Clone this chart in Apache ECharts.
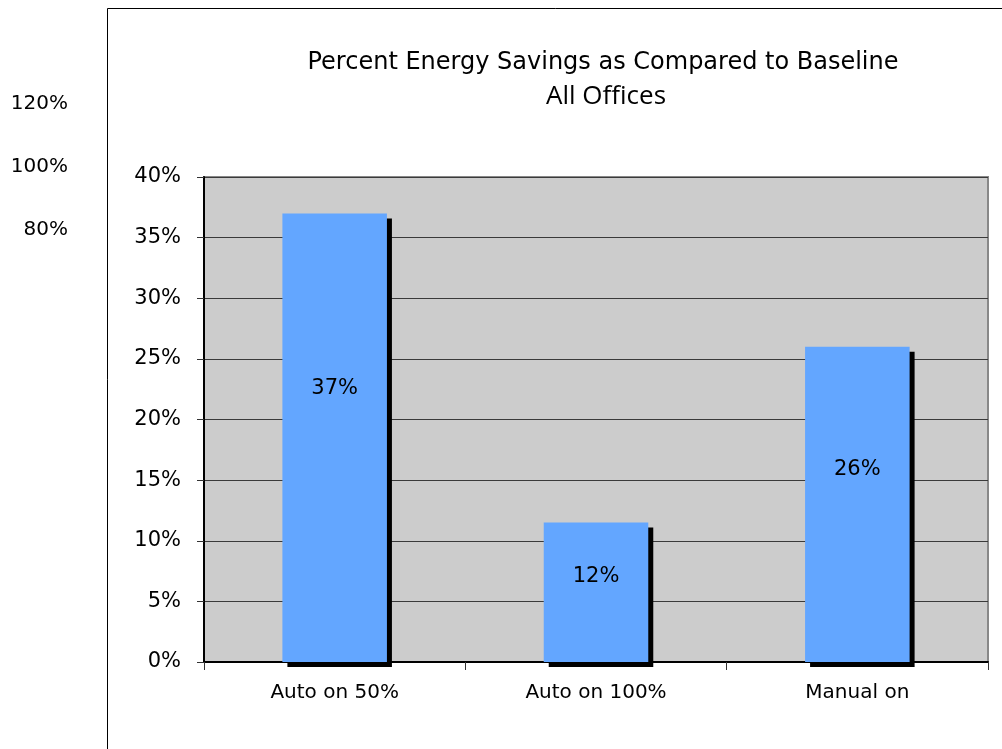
<!DOCTYPE html>
<html>
<head>
<meta charset="utf-8">
<script src="https://cdn.jsdelivr.net/npm/echarts@6/dist/echarts.min.js"></script>
<style>
  html, body { margin: 0; padding: 0; background: #ffffff; }
  #chart { width: 1002px; height: 749px; }
</style>
</head>
<body>
<div id="chart"></div>
<script>
// Savings by control strategy (percent)
const categories = ['Auto on 50%', 'Auto on 100%', 'Manual on'];
const savings = [37, 11.5, 26];

// Main value axis range
const yMin = 0, yMax = 40, yStep = 5;

// Leftover scale at the left margin
const sideTicks = [80, 100, 120];

const titleLine1 = 'Percent Energy Savings as Compared to Baseline';
const titleLine2 = 'All Offices';

const FONT = '"DejaVu Sans", sans-serif';

const chart = echarts.init(document.getElementById('chart'), null, { renderer: 'canvas' });

chart.setOption({
  animation: false,
  backgroundColor: '#ffffff',
  title: [
    {
      text: titleLine1,
      left: 598, top: 46, textAlign: 'center',
      textStyle: { fontFamily: FONT, fontSize: 24, fontWeight: 'normal', color: '#000' }
    },
    {
      text: titleLine2,
      left: 601, top: 79, textAlign: 'center',
      textStyle: { fontFamily: '"Open Sans", sans-serif', fontSize: 26, fontWeight: 'normal', color: '#000' }
    }
  ],
  graphic: [
    {
      type: 'rect', silent: true, z: -10,
      shape: { x: 107.5, y: 8.5, width: 1000, height: 800 },
      style: { fill: 'none', stroke: '#000', lineWidth: 1 }
    }
  ],
  grid: [
    { left: 204, right: 14, top: 177, bottom: 87, show: true,
      backgroundColor: '#cccccc', borderColor: '#888888', borderWidth: 2 },
    { left: 76, width: 1, top: 104, height: 126, show: false }
  ],
  xAxis: [
    {
      gridIndex: 0, type: 'category', data: categories,
      axisLine: { show: true, lineStyle: { color: '#000', width: 2 } },
      axisTick: { show: true, alignWithLabel: false, length: 8, lineStyle: { color: '#333', width: 1 } },
      axisLabel: { fontFamily: FONT, fontSize: 20, color: '#000', margin: 21 },
      splitLine: { show: false }
    },
    { gridIndex: 1, type: 'value', show: false }
  ],
  yAxis: [
    {
      gridIndex: 0, type: 'value', min: yMin, max: yMax, interval: yStep,
      axisLine: { show: true, lineStyle: { color: '#000', width: 2 } },
      axisTick: { show: true, length: 7, lineStyle: { color: '#333' } },
      axisLabel: { fontFamily: FONT, fontSize: 21, color: '#000', margin: 23,
        formatter: v => v + '%' },
      splitLine: { show: true, lineStyle: { color: '#3a3a3a', width: 1 } }
    },
    {
      gridIndex: 1, type: 'value', min: sideTicks[0], max: sideTicks[sideTicks.length - 1],
      interval: sideTicks[1] - sideTicks[0],
      axisLine: { show: false }, axisTick: { show: false }, splitLine: { show: false },
      axisLabel: { fontFamily: FONT, fontSize: 20, color: '#000', margin: 8,
        formatter: v => v + '%' }
    }
  ],
  series: [
    {
      type: 'bar', xAxisIndex: 0, yAxisIndex: 0,
      data: savings,
      barWidth: '40%',
      itemStyle: {
        color: '#63a6ff',
        shadowColor: '#000', shadowBlur: 0, shadowOffsetX: 5, shadowOffsetY: 5
      },
      label: {
        show: true, position: ['50%', '39%'], align: 'center', verticalAlign: 'middle',
        fontFamily: FONT, fontSize: 21, color: '#000',
        formatter: p => Math.round(p.value) + '%'
      }
    }
  ]
});
</script>
</body>
</html>
